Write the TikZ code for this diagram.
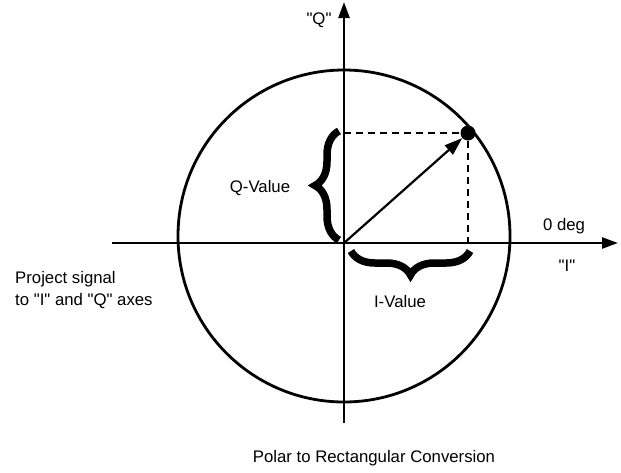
\documentclass[tikz,border=0pt]{standalone}
\usepackage{fontspec}
\setmainfont{Liberation Sans}
\usetikzlibrary{arrows.meta,decorations.pathreplacing,calc}

\begin{document}
\begin{tikzpicture}[x=1pt,y=-1pt,font=\fontsize{16.75}{22}\selectfont,
  axis/.style={line width=2.5pt,-{Triangle[length=16pt,width=11pt]}},
  vec/.style={line width=2.2pt,-{Triangle[length=18pt,width=12pt]}},
  proj/.style={dash pattern=on 7pt off 5pt,line width=2pt},
  bracket/.style={decorate,decoration={brace,amplitude=24pt},line width=7.5pt},
  lbl/.style={inner sep=1pt}]
  % Parameters

\def\R{166pt}    % circle radius
\def\qt{\textquotedbl}

 \useasboundingbox (0,0) rectangle (621,472);

 \coordinate (O) at (344,243);
 \coordinate (C) at (344,236);
 \coordinate (Ileft) at (112,243);
 \coordinate (Iright) at (618,243);
 \coordinate (Qbot) at (344,423);
 \coordinate (Qtop) at (344,2);

  % Circle and axes
  \draw[line width=2.8pt] (C) circle[radius=\R];
  \draw[axis] (Ileft) -- (Iright);
  \draw[axis] (Qbot) -- (Qtop);

  % Signal point
  \node[circle,fill,inner sep=0pt,minimum size=15pt] (P) at (468,133) {};
  \coordinate (Qp) at (O |- P);
  \coordinate (Ip) at (P |- O);

  \draw[proj] (Qp) -- (P);
  \draw[proj] (P) -- (Ip);
  \draw[vec] (O) -- (P);

  % Braces
  \coordinate (Qb1) at (339,240);
  \coordinate (Qb2) at (339,131);
  \coordinate (Ib1) at (470,251);
  \coordinate (Ib2) at (351,251);
  \draw[bracket] (Qb1) -- (Qb2);
  \draw[bracket] (Ib1) -- (Ib2);

\node[lbl] (qname) at (319,20) {\qt Q\qt};
\node[lbl] (deg) at (564,226) {0 deg};
\node[lbl] (iname) at (567,266) {\qt I\qt};
\node[lbl] (qval) at (260,188) {Q-Value};
\node[lbl] (ival) at (400,302) {I-Value};
\node[lbl,align=left,anchor=west] (proj) at (14,290) {Project signal\\to \qt I\qt{} and \qt Q\qt{} axes};
\node[lbl] (title) at (374,458) {Polar to Rectangular Conversion};

  \end{tikzpicture}
\end{document}
